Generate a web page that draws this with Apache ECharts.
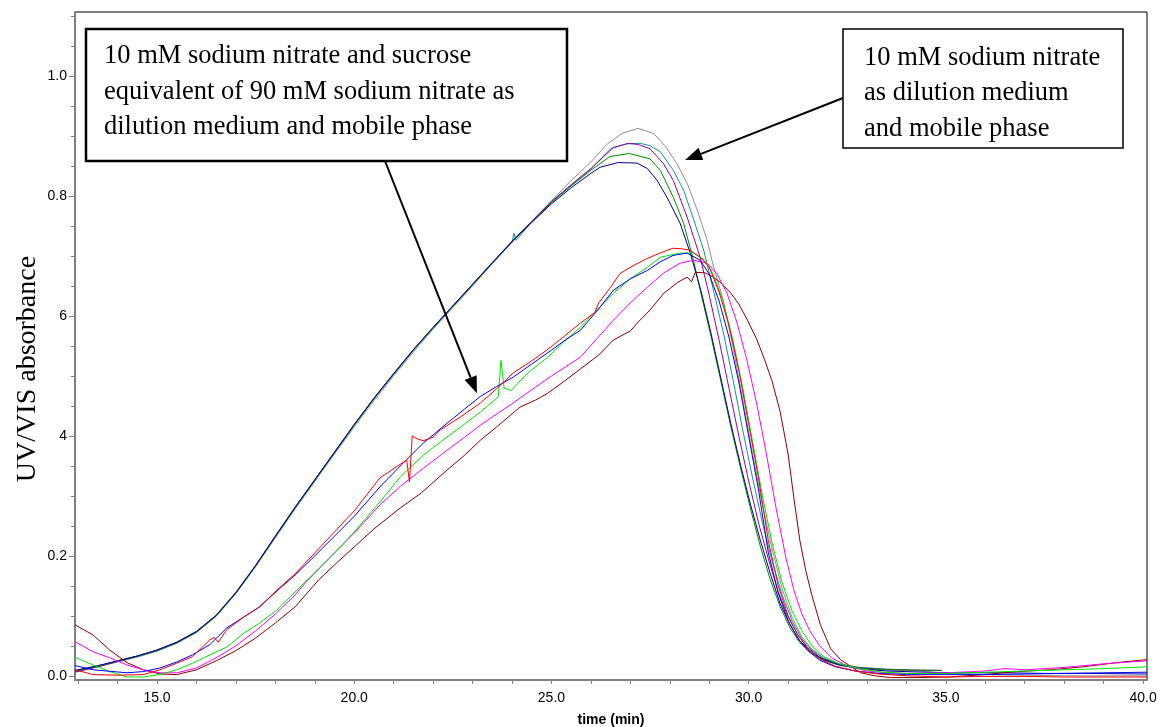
<!DOCTYPE html>
<html><head><meta charset="utf-8">
<script src="https://cdn.jsdelivr.net/npm/echarts@6/dist/echarts.min.js"></script>
<style>html,body{margin:0;padding:0;background:#fff}#c{width:1160px;height:727px}</style>
</head><body><div id="c"></div>
<script>
// ---- axis ticks / labels ----
const xTickValues = [15, 20, 25, 30, 35, 40];
const xTickLabels = ['15.0', '20.0', '25.0', '30.0', '35.0', '40.0'];
const xMinorTicks = [13,14,16,17,18,19,21,22,23,24,26,27,28,29,31,32,33,34,36,37,38,39];
const yTickValues = [0, 0.2, 0.4, 0.6, 0.8, 1.0];
const yTickLabels = ['0.0', '0.2', '4', '6', '0.8', '1.0'];
const yMinorTicks = [0.05,0.1,0.15,0.25,0.3,0.35,0.45,0.5,0.55,0.65,0.7,0.75,0.85,0.9,0.95,1.05,1.1];

// ---- upper group: 10 mM sodium nitrate ----
const grayRun = [[12.92,0.007],[13.5,0.015],[14,0.023],[14.5,0.031],[15,0.041],[15.5,0.054],[16,0.072],[16.5,0.099],[17,0.137],[17.5,0.182],[18,0.23],[18.5,0.278],[19,0.324],[19.5,0.37],[20,0.415],[20.5,0.459],[21,0.5],[21.5,0.54],[22,0.578],[22.5,0.614],[23,0.65],[23.5,0.687],[24,0.723],[24.5,0.758],[25,0.792],[25.5,0.826],[26,0.857],[26.4,0.886],[26.8,0.905],[27.2,0.913],[27.6,0.904],[27.9,0.882],[28.2,0.852],[28.45,0.82],[28.7,0.776],[28.95,0.726],[29.1,0.685],[29.35,0.628],[29.6,0.55],[29.85,0.46],[30.1,0.37],[30.35,0.285],[30.6,0.21],[30.85,0.145],[31.1,0.098],[31.35,0.065],[31.6,0.045],[31.9,0.03],[32.3,0.02],[32.8,0.014],[33.5,0.011],[34,0.01],[35,0.004],[36,0.002],[37,0.001],[38,0.0],[39,0.0],[40.1,0.0]];
const tealRun = [[12.92,0.008],[13.5,0.016],[14,0.024],[14.5,0.032],[15,0.042],[15.5,0.055],[16,0.073],[16.5,0.1],[17,0.138],[17.5,0.183],[18,0.232],[18.5,0.28],[19,0.326],[19.5,0.372],[20,0.418],[20.5,0.462],[21,0.503],[21.5,0.543],[22,0.58],[22.5,0.616],[23,0.652],[23.5,0.688],[24,0.723],[24.05,0.738],[24.1,0.726],[24.5,0.757],[25,0.79],[25.5,0.818],[26,0.845],[26.5,0.879],[26.9,0.887],[27.25,0.888],[27.5,0.884],[27.76,0.874],[28.09,0.843],[28.35,0.81],[28.6,0.762],[28.86,0.71],[29.1,0.645],[29.35,0.575],[29.6,0.495],[29.85,0.41],[30.1,0.33],[30.35,0.255],[30.6,0.19],[30.85,0.135],[31.1,0.092],[31.35,0.062],[31.6,0.043],[31.9,0.029],[32.3,0.019],[32.8,0.014],[33.5,0.011],[34,0.01]];
const purpleRun = [[12.92,0.006],[13.5,0.015],[14,0.024],[14.5,0.033],[15,0.043],[15.5,0.056],[16,0.074],[16.5,0.101],[17,0.139],[17.5,0.184],[18,0.233],[18.5,0.281],[19,0.327],[19.5,0.373],[20,0.419],[20.5,0.463],[21,0.504],[21.5,0.544],[22,0.581],[22.5,0.617],[23,0.653],[23.5,0.689],[24,0.725],[24.5,0.758],[25,0.791],[25.5,0.819],[26,0.846],[26.57,0.881],[26.95,0.888],[27.2,0.886],[27.5,0.879],[27.84,0.854],[28.09,0.826],[28.44,0.765],[28.77,0.698],[29,0.635],[29.25,0.56],[29.5,0.48],[29.75,0.4],[30,0.325],[30.25,0.255],[30.5,0.195],[30.75,0.14],[31,0.098],[31.25,0.068],[31.5,0.047],[31.8,0.031],[32.2,0.02],[32.7,0.014],[33.5,0.01],[34.9,0.009]];
const greenRun = [[12.92,0.008],[13.5,0.016],[14,0.025],[14.5,0.033],[15,0.042],[15.5,0.055],[16,0.073],[16.5,0.1],[17,0.138],[17.5,0.183],[18,0.232],[18.5,0.28],[19,0.326],[19.5,0.372],[20,0.418],[20.5,0.462],[21,0.503],[21.5,0.543],[22,0.58],[22.5,0.616],[23,0.652],[23.5,0.688],[24,0.724],[24.5,0.757],[25,0.789],[25.5,0.817],[26,0.843],[26.48,0.866],[26.98,0.871],[27.5,0.862],[27.76,0.843],[28.09,0.798],[28.35,0.755],[28.6,0.693],[28.8,0.635],[29.05,0.565],[29.3,0.49],[29.55,0.415],[29.8,0.345],[30.05,0.278],[30.3,0.215],[30.55,0.16],[30.8,0.115],[31.05,0.08],[31.3,0.055],[31.6,0.037],[31.9,0.026],[32.3,0.018],[32.8,0.013],[33.5,0.01],[34.9,0.009]];
const navyRun = [[12.92,0.009],[13.5,0.017],[14,0.025],[14.5,0.033],[15,0.043],[15.5,0.056],[16,0.074],[16.5,0.101],[17,0.139],[17.5,0.184],[18,0.233],[18.5,0.281],[19,0.327],[19.5,0.373],[20,0.419],[20.5,0.463],[21,0.504],[21.5,0.544],[22,0.581],[22.5,0.617],[23,0.653],[23.5,0.689],[24,0.724],[24.5,0.756],[25,0.787],[25.5,0.814],[26,0.838],[26.23,0.848],[26.7,0.856],[27.17,0.855],[27.43,0.846],[27.68,0.826],[27.93,0.798],[28.26,0.755],[28.52,0.705],[28.8,0.64],[29.05,0.57],[29.3,0.495],[29.55,0.42],[29.8,0.35],[30.05,0.285],[30.3,0.225],[30.55,0.17],[30.8,0.12],[31.05,0.085],[31.3,0.058],[31.6,0.039],[31.9,0.027],[32.3,0.018],[32.8,0.012],[33.5,0.008],[34.5,0.006],[35.5,0.005],[36.5,0.005],[37.5,0.004],[38.5,0.004],[40.1,0.003]];

// ---- lower group: 10 mM sodium nitrate + sucrose ----
const redRun = [[12.92,0.01],[13.38,0.002],[14,0.001],[14.65,0.002],[15.07,0.01],[15.5,0.021],[15.9,0.032],[16.34,0.06],[16.45,0.064],[16.55,0.056],[16.77,0.077],[17.2,0.098],[17.6,0.115],[18.04,0.143],[18.5,0.17],[19,0.205],[19.5,0.24],[20,0.275],[20.65,0.33],[21.33,0.36],[21.4,0.323],[21.47,0.4],[21.6,0.395],[21.75,0.392],[22,0.398],[22.18,0.41],[22.7,0.432],[23.2,0.455],[23.6,0.478],[24.03,0.505],[24.45,0.523],[24.88,0.543],[25.3,0.565],[25.73,0.588],[26.1,0.606],[26.2,0.622],[26.5,0.648],[26.74,0.671],[27.1,0.685],[27.43,0.696],[27.75,0.705],[28.08,0.713],[28.3,0.712],[28.51,0.71],[28.77,0.698],[29,0.682],[29.25,0.64],[29.5,0.585],[29.75,0.51],[30,0.42],[30.25,0.33],[30.5,0.225],[30.75,0.15],[31,0.1],[31.25,0.068],[31.5,0.045],[31.8,0.028],[32.2,0.016],[32.7,0.008],[33.3,0.003],[34,0.0],[35,-0.002],[36,-0.001],[37,-0.001],[38,-0.002],[39,-0.002],[40.1,-0.002]];
const blueRun = [[12.92,0.017],[13.38,0.01],[14.24,0.005],[14.65,0.007],[15.07,0.013],[15.5,0.023],[15.9,0.035],[16.34,0.052],[16.77,0.08],[17.2,0.098],[17.6,0.115],[18.1,0.145],[18.5,0.168],[19,0.2],[19.5,0.233],[20,0.266],[20.65,0.315],[21.2,0.352],[21.75,0.388],[22.35,0.421],[22.8,0.445],[23.2,0.466],[23.6,0.482],[24.03,0.498],[24.5,0.52],[25,0.543],[25.35,0.56],[25.73,0.576],[26.15,0.608],[26.57,0.643],[27,0.662],[27.43,0.676],[27.75,0.69],[28.08,0.701],[28.44,0.705],[28.77,0.693],[29,0.67],[29.25,0.625],[29.5,0.565],[29.75,0.49],[30,0.4],[30.25,0.31],[30.5,0.205],[30.75,0.138],[31,0.092],[31.25,0.062],[31.5,0.042],[31.8,0.026],[32.2,0.015],[32.7,0.008],[33.3,0.004],[34,0.002],[35,0.002],[36,0.002],[37,0.003],[38,0.004],[39,0.005],[40.1,0.006]];
const limeRun = [[12.92,0.031],[13.38,0.018],[13.8,0.007],[14.24,-0.002],[14.65,-0.002],[15.07,0.002],[15.5,0.01],[15.9,0.021],[16.34,0.035],[16.77,0.048],[17.2,0.071],[17.6,0.088],[18.04,0.11],[18.5,0.14],[19,0.172],[19.5,0.205],[20,0.24],[20.65,0.29],[21.17,0.332],[21.75,0.368],[22.35,0.398],[22.8,0.42],[23.2,0.44],[23.65,0.465],[23.72,0.526],[23.8,0.48],[23.98,0.476],[24.4,0.505],[24.9,0.531],[25.3,0.556],[25.73,0.581],[26.15,0.61],[26.57,0.638],[27,0.662],[27.43,0.681],[27.76,0.698],[28.26,0.705],[28.6,0.705],[28.85,0.695],[29.1,0.67],[29.35,0.625],[29.6,0.56],[29.85,0.48],[30.1,0.39],[30.35,0.3],[30.6,0.22],[30.85,0.155],[31.1,0.108],[31.35,0.075],[31.6,0.05],[31.9,0.032],[32.3,0.02],[32.8,0.012],[33.4,0.006],[34,0.004],[35,0.004],[36,0.006],[37,0.008],[38,0.01],[39,0.012],[40.1,0.015]];
const magentaRun = [[12.92,0.057],[13.38,0.04],[13.8,0.03],[14.24,0.018],[14.65,0.01],[15.07,0.005],[15.5,0.005],[16,0.013],[16.5,0.03],[17,0.05],[17.5,0.075],[18,0.103],[18.5,0.135],[18.8,0.158],[19.5,0.205],[20,0.238],[20.65,0.285],[21.17,0.316],[21.75,0.346],[22.35,0.376],[22.8,0.398],[23.2,0.418],[23.6,0.436],[24.03,0.455],[24.5,0.477],[25,0.5],[25.35,0.515],[25.73,0.531],[26.15,0.562],[26.57,0.593],[27,0.622],[27.43,0.648],[27.85,0.672],[28.26,0.688],[28.6,0.693],[28.95,0.688],[29.2,0.67],[29.45,0.638],[29.7,0.59],[29.95,0.528],[30.2,0.455],[30.45,0.37],[30.7,0.278],[30.95,0.195],[31.15,0.142],[31.35,0.103],[31.55,0.075],[31.8,0.05],[32.1,0.03],[32.5,0.016],[33,0.008],[33.5,0.005],[34,0.004],[35,0.005],[36,0.008],[36.5,0.012],[37,0.01],[38,0.014],[39,0.02],[40.1,0.025]];
const brownRun = [[12.92,0.085],[13.38,0.068],[13.8,0.043],[14.24,0.022],[14.65,0.01],[15.08,0.003],[15.5,0.002],[16,0.01],[16.5,0.025],[17,0.042],[17.5,0.063],[18,0.088],[18.5,0.115],[19.1,0.16],[19.5,0.185],[20,0.215],[20.5,0.245],[21.17,0.28],[21.7,0.305],[22.35,0.343],[22.8,0.368],[23.2,0.393],[23.7,0.42],[24.2,0.448],[24.6,0.46],[24.9,0.471],[25.3,0.49],[25.8,0.515],[26.2,0.535],[26.57,0.56],[27,0.575],[27.2,0.59],[27.5,0.61],[27.85,0.638],[28.2,0.656],[28.44,0.665],[28.55,0.657],[28.65,0.673],[28.9,0.672],[29.1,0.665],[29.3,0.655],[29.55,0.638],[29.75,0.62],[29.97,0.593],[30.2,0.562],[30.4,0.528],[30.6,0.49],[30.8,0.44],[31,0.37],[31.15,0.295],[31.3,0.225],[31.45,0.175],[31.6,0.135],[31.82,0.085],[32.08,0.045],[32.33,0.027],[32.6,0.015],[32.84,0.005],[33.2,0.0],[33.6,-0.003],[34.27,-0.003],[35.1,-0.002],[35.95,0.002],[36.8,0.007],[37.65,0.01],[38.48,0.015],[39.33,0.022],[40.1,0.027]];

const seriesDefs = [
  {name:'gray', data:grayRun, color:'#8f8f8f'},
  {name:'teal', data:tealRun, color:'#129494'},
  {name:'purple', data:purpleRun, color:'#990099'},
  {name:'green', data:greenRun, color:'#008a00'},
  {name:'navy', data:navyRun, color:'#00008f'},
  {name:'brown', data:brownRun, color:'#8b0000'},
  {name:'magenta', data:magentaRun, color:'#ff00ff'},
  {name:'lime', data:limeRun, color:'#00e600'},
  {name:'blue', data:blueRun, color:'#0000ff'},
  {name:'red', data:redRun, color:'#ff0000'}
];

const box1Lines = ['10 mM sodium nitrate and sucrose', 'equivalent of 90 mM sodium nitrate as', 'dilution medium and mobile phase'];
const box2Lines = ['10 mM sodium nitrate', 'as dilution medium', 'and mobile phase'];
const arrow1Tip = [23.11, 0.471];
const arrow2Tip = [28.39, 0.86];

const chart = echarts.init(document.getElementById('c'), null, {renderer:'canvas'});
const axisGray = '#7f7f7f';
const option = {
  animation: false,
  backgroundColor: '#fff',
  grid: {left:75, right:13, top:12, bottom:47, show:true, borderColor:'#000', borderWidth:1, backgroundColor:'transparent', containLabel:false, outerBoundsMode:'none'},
  xAxis: {
    type:'value', min:12.92, max:40.1,
    axisLine:{show:true, onZero:false, lineStyle:{color:axisGray, width:2}},
    axisTick:{show:true, customValues: xTickValues.concat(xMinorTicks), length:4, lineStyle:{color:axisGray, width:1}},
    axisLabel:{customValues:xTickValues, formatter:(v)=>{const i=xTickValues.findIndex(t=>Math.abs(t-v)<1e-6);return i>=0?xTickLabels[i]:'';}, fontFamily:'Liberation Sans', fontSize:14, color:'#000', margin:11},
    splitLine:{show:false},
    name:'time (min)', nameLocation:'middle', nameGap:33,
    nameTextStyle:{fontFamily:'Liberation Sans', fontWeight:'bold', fontSize:14, color:'#000'}
  },
  yAxis: [
    {
      type:'value', min:-0.007, max:1.107, position:'left',
      axisLine:{show:true, onZero:false, lineStyle:{color:axisGray, width:2}},
      axisTick:{show:true, customValues:yTickValues, length:6, lineStyle:{color:axisGray, width:1}},
      axisLabel:{customValues:yTickValues, formatter:(v)=>{const i=yTickValues.findIndex(t=>Math.abs(t-v)<1e-6);return i>=0?yTickLabels[i]:'';}, fontFamily:'Liberation Sans', fontSize:14, color:'#000', margin:8},
      splitLine:{show:false}
    },
    {
      type:'value', min:-0.007, max:1.107, position:'left',
      axisLine:{show:false},
      axisTick:{show:true, customValues:yMinorTicks, length:4, lineStyle:{color:axisGray, width:1}},
      axisLabel:{show:false},
      splitLine:{show:false}
    }
  ],
  series: seriesDefs.map(s => ({
    type:'line', name:s.name, data:s.data, yAxisIndex:0, showSymbol:false, symbol:'none',
    lineStyle:{color:s.color, width:1}, silent:true, smooth:false
  }))
};
chart.setOption(option);

function arrowGraphics(x0, y0, x1, y1, w) {
  const dx = x1 - x0, dy = y1 - y0, L = Math.hypot(dx, dy);
  const ux = dx / L, uy = dy / L, hl = 17, hw = 6.5;
  const bx = x1 - ux * hl, by = y1 - uy * hl;
  return [
    {type:'line', shape:{x1:x0, y1:y0, x2:bx, y2:by}, style:{stroke:'#000', lineWidth:w}, z:100},
    {type:'polygon', shape:{points:[[x1,y1],[bx - uy*hw, by + ux*hw],[bx + uy*hw, by - ux*hw]]}, style:{fill:'#000'}, z:100}
  ];
}

const t1 = chart.convertToPixel({xAxisIndex:0, yAxisIndex:0}, arrow1Tip);
const t2 = chart.convertToPixel({xAxisIndex:0, yAxisIndex:0}, arrow2Tip);
const gfx = [
  {type:'text', x:28, y:369, rotation:Math.PI/2, style:{text:'UV/VIS absorbance', font:'28px "Liberation Serif"', fill:'#000', align:'center', verticalAlign:'middle'}, z:100},
  {type:'rect', shape:{x:86, y:29, width:481, height:132}, style:{fill:'#fff', stroke:'#000', lineWidth:2.5}, z:100},
  {type:'rect', shape:{x:843, y:29, width:280, height:119}, style:{fill:'#fff', stroke:'#000', lineWidth:1.5}, z:100}
];
box1Lines.forEach((s, i) => gfx.push({type:'text', x:104, y:56.5 + i*35.3, style:{text:s, font:'26.5px "Liberation Serif"', fill:'#000', align:'left', verticalAlign:'middle'}, z:101}));
box2Lines.forEach((s, i) => gfx.push({type:'text', x:864, y:58 + i*35.3, style:{text:s, font:'26.5px "Liberation Serif"', fill:'#000', align:'left', verticalAlign:'middle'}, z:101}));
arrowGraphics(385, 161, t1[0], t1[1], 2).forEach(g => gfx.push(g));
arrowGraphics(843, 98, t2[0], t2[1], 2).forEach(g => gfx.push(g));
chart.setOption({graphic: gfx});
</script></body></html>
